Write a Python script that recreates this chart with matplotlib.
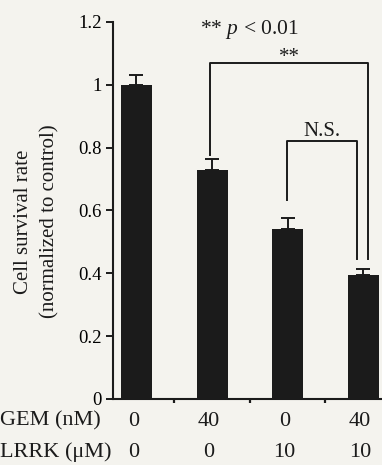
import matplotlib
matplotlib.use("Agg")
import matplotlib.pyplot as plt
from matplotlib.transforms import blended_transform_factory

# ---- data ----
gem = ["0", "40", "0", "40"]
lrrk = ["0", "0", "10", "10"]
values = [1.0, 0.729, 0.541, 0.395]
errors = [0.03, 0.035, 0.035, 0.02]
yticks = [0, 0.2, 0.4, 0.6, 0.8, 1, 1.2]
ytick_labels = ["0", "0.2", "0.4", "0.6", "0.8", "1", "1.2"]

plt.rcParams['font.family'] = ['Liberation Serif', 'DejaVu Serif']
plt.rcParams['mathtext.fontset'] = 'custom'
plt.rcParams['mathtext.it'] = 'Liberation Serif:italic'
plt.rcParams['mathtext.rm'] = 'Liberation Serif'
bg = '#f4f3ee'
ink = '#1b1b1b'

fig = plt.figure(figsize=(3.82, 4.65), dpi=100, facecolor=bg)
ax = fig.add_axes([0.296, 0.142, 0.704, 0.811])
ax.set_facecolor(bg)

x = list(range(len(values)))
ax.bar(x, values, width=0.41, color=ink, zorder=2)
ax.errorbar(x, values, yerr=[[0]*len(values), errors], fmt='none',
            ecolor=ink, elinewidth=1.4, capsize=4.7, capthick=1.4, zorder=3)

ax.set_xlim(-0.31, 3.25)
ax.set_ylim(0, 1.2)
ax.set_yticks(yticks)
ax.set_yticklabels(ytick_labels, fontsize=13.5)
ax.set_xticks([0.5, 1.5, 2.5])
ax.set_xticklabels([])
ax.tick_params(axis='y', direction='out', length=5, width=1.4, color=ink, pad=3)
ax.tick_params(axis='x', direction='out', length=3, width=1.6, color=ink)
for s in ['top', 'right']:
    ax.spines[s].set_visible(False)
for s in ['left', 'bottom']:
    ax.spines[s].set_linewidth(1.5)
    ax.spines[s].set_color(ink)

# significance brackets
def bracket(x1, x2, y, y1, y2, label, dy, fs):
    ax.plot([x1, x1, x2, x2], [y1, y, y, y2], color=ink, lw=1.4, clip_on=False, zorder=4)
    ax.text((x1 + x2) / 2, y + dy, label, ha='center', va='bottom', fontsize=fs, color=ink)

bracket(1 - 0.03, 3 + 0.07, 1.07, 0.777, 0.446, "**", -0.015, 15)
bracket(2 - 0.01, 3 - 0.08, 0.82, 0.634, 0.446, "N.S.", 0.0, 15)

ax.text(1.5, 1.175, r"** $p$ < 0.01", ha='center', va='center', fontsize=15.5, color=ink)

# y label
fig.text(0.062, 0.523, "Cell survival rate", rotation=90, ha='center', va='center', fontsize=15, color=ink)
fig.text(0.131, 0.525, "(normalized to control)", rotation=90, ha='center', va='center', fontsize=15, color=ink)

# condition rows
tr = blended_transform_factory(ax.transData, fig.transFigure)
row_y = [1 - 421 / 465, 1 - 452 / 465]
fig.text(0.0, row_y[0], "GEM (nM)", ha='left', va='center', fontsize=16, color=ink)
fig.text(0.0, row_y[1], "LRRK (\u03bcM)", ha='left', va='center', fontsize=16, color=ink)
for i in x:
    ax.text(i - 0.04, row_y[0], gem[i], transform=tr, ha='center', va='center', fontsize=16, color=ink)
    ax.text(i - 0.04, row_y[1], lrrk[i], transform=tr, ha='center', va='center', fontsize=16, color=ink)

fig.savefig("out.png", dpi=100, facecolor=bg)
